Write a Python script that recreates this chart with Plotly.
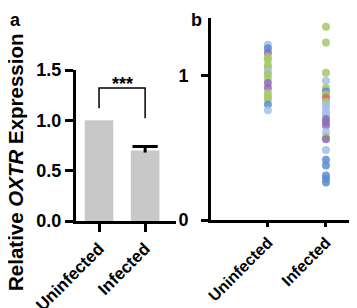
import plotly.graph_objects as go

categories = ["Uninfected", "Infected"]
bar_values = [1.00, 0.70]
bar_err_plus = [0.0, 0.04]

uninf_values = [1.215, 1.19, 1.16, 1.13, 1.11, 1.075, 1.055, 1.03, 1.01, 0.98,
                0.95, 0.915, 0.88, 0.855, 0.835, 0.80, 0.76]
uninf_colors = ["lb", "b", "p", "g", "g", "g", "g", "lb", "g", "g",
                "p", "p", "g", "g", "g", "b", "lb"]
inf_values = [1.34, 1.23, 1.02, 0.965, 0.915, 0.89, 0.87, 0.845, 0.82, 0.80,
              0.78, 0.75, 0.73, 0.70, 0.68, 0.655, 0.61, 0.575, 0.56, 0.486,
              0.417, 0.377, 0.308, 0.285, 0.26]
inf_colors = ["g", "g", "g", "lb", "g", "b", "g", "r", "g", "lb",
              "lb", "lb", "lb", "p", "p", "p", "lb", "g", "p", "lb",
              "b", "b", "b", "b", "b"]
palette = {"lb": "#a3bfe6", "b": "#5a8dd0", "g": "#a5c868", "p": "#8d6cb8", "r": "#e06060"}

# the page has an 8px body margin; size the figure to fill the rest of the window
OFF = 8
W, H = 357 - OFF, 308 - OFF
def px(x): return (x - OFF) / W
def py(y): return 1 - (y - OFF) / H

font = "Arial, Liberation Sans, sans-serif"

fig = go.Figure()
fig.add_trace(go.Bar(
    x=categories, y=bar_values, width=0.62,
    marker=dict(color="#c8c8c8", line=dict(width=0)),
    xaxis="x", yaxis="y", showlegend=False))

# error bars (upper only) built from the data arrays
for cat, v, e in zip(categories, bar_values, bar_err_plus):
    if e > 0:
        fig.add_trace(go.Scatter(
            x=[cat, cat], y=[v - 0.02, v + e], mode="lines",
            line=dict(color="black", width=3), xaxis="x", yaxis="y",
            showlegend=False, hoverinfo="skip"))
        fig.add_trace(go.Scatter(
            x=[cat], y=[v + e], mode="markers",
            marker=dict(symbol="line-ew", size=18, line=dict(color="black", width=3)),
            xaxis="x", yaxis="y", showlegend=False, hoverinfo="skip"))

fig.add_trace(go.Scatter(
    x=[categories[0]] * len(uninf_values) + [categories[1]] * len(inf_values),
    y=uninf_values + inf_values, mode="markers",
    marker=dict(size=8, color=[palette[c] for c in uninf_colors + inf_colors],
                opacity=0.85, line=dict(width=0)),
    xaxis="x2", yaxis="y2", showlegend=False))

axis_common = dict(showline=True, linecolor="black", linewidth=3, ticks="outside",
                   tickcolor="black", tickwidth=3, showgrid=False, zeroline=False,
                   automargin=False,
                   tickfont=dict(family=font, size=18, color="black", weight="bold"))

fig.update_layout(
    width=W, height=H, margin=dict(l=0, r=0, t=0, b=0),
    plot_bgcolor="white", paper_bgcolor="white",
    xaxis=dict(domain=[px(76), px(176)], type="category", range=[-0.5, 1.67],
               anchor="y", tickangle=-45, ticklen=8,
               **{**axis_common, "tickfont": dict(family=font, size=17, color="black", weight="bold")}),
    yaxis=dict(domain=[py(221), py(70)], range=[0, 1.5], anchor="x",
               tickvals=[0, 0.5, 1.0, 1.5], ticktext=["0.0", "0.5", "1.0", "1.5"],
               ticklen=8, **axis_common),
    xaxis2=dict(domain=[px(211), px(355)], type="category", range=[-0.98, 1.5],
                anchor="y2", tickangle=-45, ticklen=4,
                **{**axis_common, "tickfont": dict(family=font, size=16, color="black", weight="bold")}),
    yaxis2=dict(domain=[py(220), py(18)], range=[0, 1.40], anchor="x2",
                tickvals=[0, 1], ticktext=["0", "1"], ticklen=7, ticklabelstandoff=9,
                **axis_common),
)

# significance bracket
fig.add_shape(type="path", path="M 0,1.12 L 0,1.32 L 1,1.32 L 1,1.02",
              xref="x", yref="y", line=dict(color="black", width=1.5))
fig.add_annotation(x=0.5, y=1.36, xref="x", yref="y", text="<b>***</b>", showarrow=False,
                   yanchor="middle", font=dict(family=font, size=18, color="black"))

fig.add_annotation(x=px(15), y=py(162), xref="paper", yref="paper",
                   text="<b>Relative <i>OXTR</i> Expression</b>", textangle=-90,
                   xanchor="center", yanchor="middle",
                   showarrow=False, font=dict(family=font, size=20.5, color="black"))
fig.add_annotation(x=0, y=1, xref="paper", yref="paper", text="<b>a</b>",
                   showarrow=False, xanchor="left", yanchor="top",
                   font=dict(family=font, size=18, color="black"))
fig.add_annotation(x=px(189), y=1, xref="paper", yref="paper", text="<b>b</b>",
                   showarrow=False, xanchor="left", yanchor="top",
                   font=dict(family=font, size=18, color="black"))

fig.write_html("out.html")
